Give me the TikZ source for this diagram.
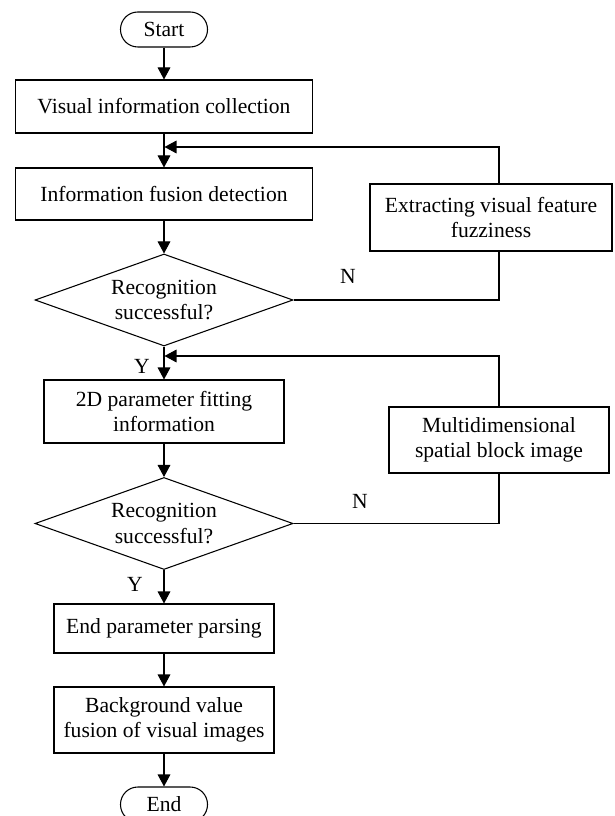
\documentclass[tikz,border=0pt]{standalone}
\usepackage{fontspec}
\setmainfont{Liberation Serif}
\usetikzlibrary{shapes.geometric,arrows.meta,calc}
\begin{document}
\begin{tikzpicture}[x=0.75pt,y=-0.75pt,
  font=\fontsize{16.2}{18.8}\selectfont,
  every node/.style={inner sep=0pt},
  box/.style={draw,line width=0.8pt,align=center,rectangle},
  term/.style={draw,line width=0.8pt,rectangle,rounded corners=13pt,minimum width=65.25pt,minimum height=26.25pt},
  dec/.style={draw,line width=0.8pt,diamond,aspect=2.8,align=center,minimum width=193.5pt,minimum height=69pt},
  arr/.style={line width=0.8pt,-{Triangle[length=9pt,width=9.5pt]}},
  ln/.style={line width=0.8pt}
]
\useasboundingbox (0,0) rectangle (614,816);
\fill[white] (0,0) rectangle (614,816);

\node[term] (start) at (164,29.5) {Start};
\node[box,minimum width=222.75pt,minimum height=39.75pt] (vic) at (164,106.5) {Visual information collection};
\node[box,minimum width=222.75pt,minimum height=39pt] (ifd) at (164,194) {Information fusion detection};
\node[dec] (d1) at (164,300) {Recognition\\successful?};
\node[box,minimum width=180pt,minimum height=47.25pt] (fp) at (164,411.5) {2D parameter fitting\\information};
\node[dec] (d2) at (164,523.5) {Recognition\\successful?};
\node[box,minimum width=165pt,minimum height=36.75pt] (epp) at (164,628.5) {End parameter parsing};
\node[box,minimum width=165pt,minimum height=49.5pt] (bg) at (164,720) {Background value\\fusion of visual images};
\node[term] (end) at (164,804.5) {End};

\node[box,minimum width=181.5pt,minimum height=50.25pt] (ext) at (491,217.5) {Extracting visual feature\\fuzziness};
\node[box,minimum width=165pt,minimum height=49.5pt] (md) at (499,440) {Multidimensional\\spatial block image};

\node (n1) at (348,276) {N};
\node (n2) at (360,501) {N};
\node (y1) at (142,366) {Y};
\node (y2) at (135,584) {Y};

\coordinate (r1) at (499,300);
\coordinate (j1) at (164.5,147);
\coordinate (r2) at (499,523.5);
\coordinate (j2) at (164.5,356);

\draw[arr] (start) -- (vic);
\draw[arr] (vic) -- (ifd);
\draw[arr] (ifd) -- (d1);
\draw[arr] (d1) -- (fp);
\draw[arr] (fp) -- (d2);
\draw[arr] (d2) -- (epp);
\draw[arr] (epp) -- (bg);
\draw[arr] (bg) -- (end);

\draw[ln] (d1.east) -- (r1) -- (r1 |- ext.south);
\draw[arr] (r1 |- ext.north) |- (j1);
\draw[ln] (d2.east) -- (r2) -- (r2 |- md.south);
\draw[arr] (r2 |- md.north) |- (j2);
\end{tikzpicture}
\end{document}
